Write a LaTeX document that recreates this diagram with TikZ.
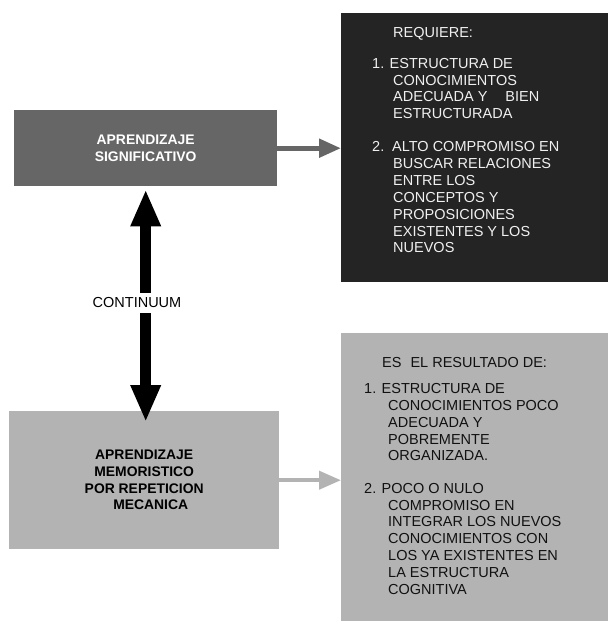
\documentclass[tikz,border=0pt]{standalone}
\usepackage{fontspec}
\setmainfont{Liberation Sans}
\usetikzlibrary{positioning, arrows.meta}
\definecolor{sigfill}{HTML}{666666}
\definecolor{reqfill}{HTML}{242424}
\definecolor{memfill}{HTML}{B3B3B3}
\definecolor{reqtext}{HTML}{F0F0F0}
\definecolor{restext}{HTML}{111111}

\begin{document}
\begin{tikzpicture}[x=1pt, y=-1pt,
        box/.style = {rectangle, draw=none, fill=#1, inner sep=0pt,
                      anchor=north west},
       list/.style = {align=left, inner sep=0pt, anchor=north west,
                      font=\fontsize{14.5}{16.85}\selectfont},
      title/.style = {align=center, font=\fontsize{13.9}{16.7}\selectfont\bfseries},
       link/.style = {-{Triangle[length=22pt,width=18pt]}, line width=#1}
                    ]
\useasboundingbox (0,0) rectangle (608,621);
% left column
\node (sig) [box=sigfill, title, text=white,
             minimum width=263pt, minimum height=76pt] at (14,110)
      {APRENDIZAJE\\ SIGNIFICATIVO};
\node (mem) [box=memfill, title, text=black,
             minimum width=270pt, minimum height=138pt] at (9,411)
      {APRENDIZAJE\\ MEMORISTICO\\ POR REPETICION\\ \hspace*{13pt}MECANICA};
% right column
\node (req) [box=reqfill, minimum width=267pt, minimum height=269pt] at (341,13) {};
\node (reqtxt) [list, text=reqtext] at (372,26.8)
      {\hspace*{21pt}REQUIERE:\\[14.2pt]
       1. ESTRUCTURA DE\\
       \hspace*{21pt}CONOCIMIENTOS\\
       \hspace*{21pt}ADECUADA Y\hspace{18pt}BIEN\\
       \hspace*{21pt}ESTRUCTURADA\\[16.2pt]
       \makebox[20pt][l]{2.}ALTO COMPROMISO EN\\
       \hspace*{21pt}BUSCAR RELACIONES\\
       \hspace*{21pt}ENTRE LOS\\
       \hspace*{21pt}CONCEPTOS Y\\
       \hspace*{21pt}PROPOSICIONES\\
       \hspace*{21pt}EXISTENTES Y LOS\\
       \hspace*{21pt}NUEVOS};
\node (res) [box=memfill, minimum width=267pt, minimum height=288pt] at (341,333) {};
\node (restxt) [list, text=restext] at (364,356.8)
      {\hspace*{18pt}ES\hspace{9pt}EL RESULTADO DE:\\[9.5pt]
       1. ESTRUCTURA DE\\
       \hspace*{24pt}CONOCIMIENTOS POCO\\
       \hspace*{24pt}ADECUADA Y\\
       \hspace*{24pt}POBREMENTE\\
       \hspace*{24pt}ORGANIZADA.\\[15.5pt]
       2. POCO O NULO\\
       \hspace*{24pt}COMPROMISO EN\\
       \hspace*{24pt}INTEGRAR LOS NUEVOS\\
       \hspace*{24pt}CONOCIMIENTOS CON\\
       \hspace*{24pt}LOS YA EXISTENTES EN\\
       \hspace*{24pt}LA ESTRUCTURA\\
       \hspace*{24pt}COGNITIVA};
% connectors
\draw[link=5pt, sigfill] (sig.east) -- (sig.east -| req.west);
\draw[link=4pt, memfill] (mem.east) -- (mem.east -| res.west);
\draw[{Triangle[length=37pt,width=28pt]}-{Triangle[length=37pt,width=28pt]},
      line width=11pt] ([yshift=-3pt]sig.south) -- ([yshift=-11pt]mem.north -| sig.south);
\node (cont) [fill=white, inner xsep=1pt, inner ysep=5pt,
              font=\fontsize{14.5}{16}\selectfont] at (137,303) {CONTINUUM};
\end{tikzpicture}
\end{document}
